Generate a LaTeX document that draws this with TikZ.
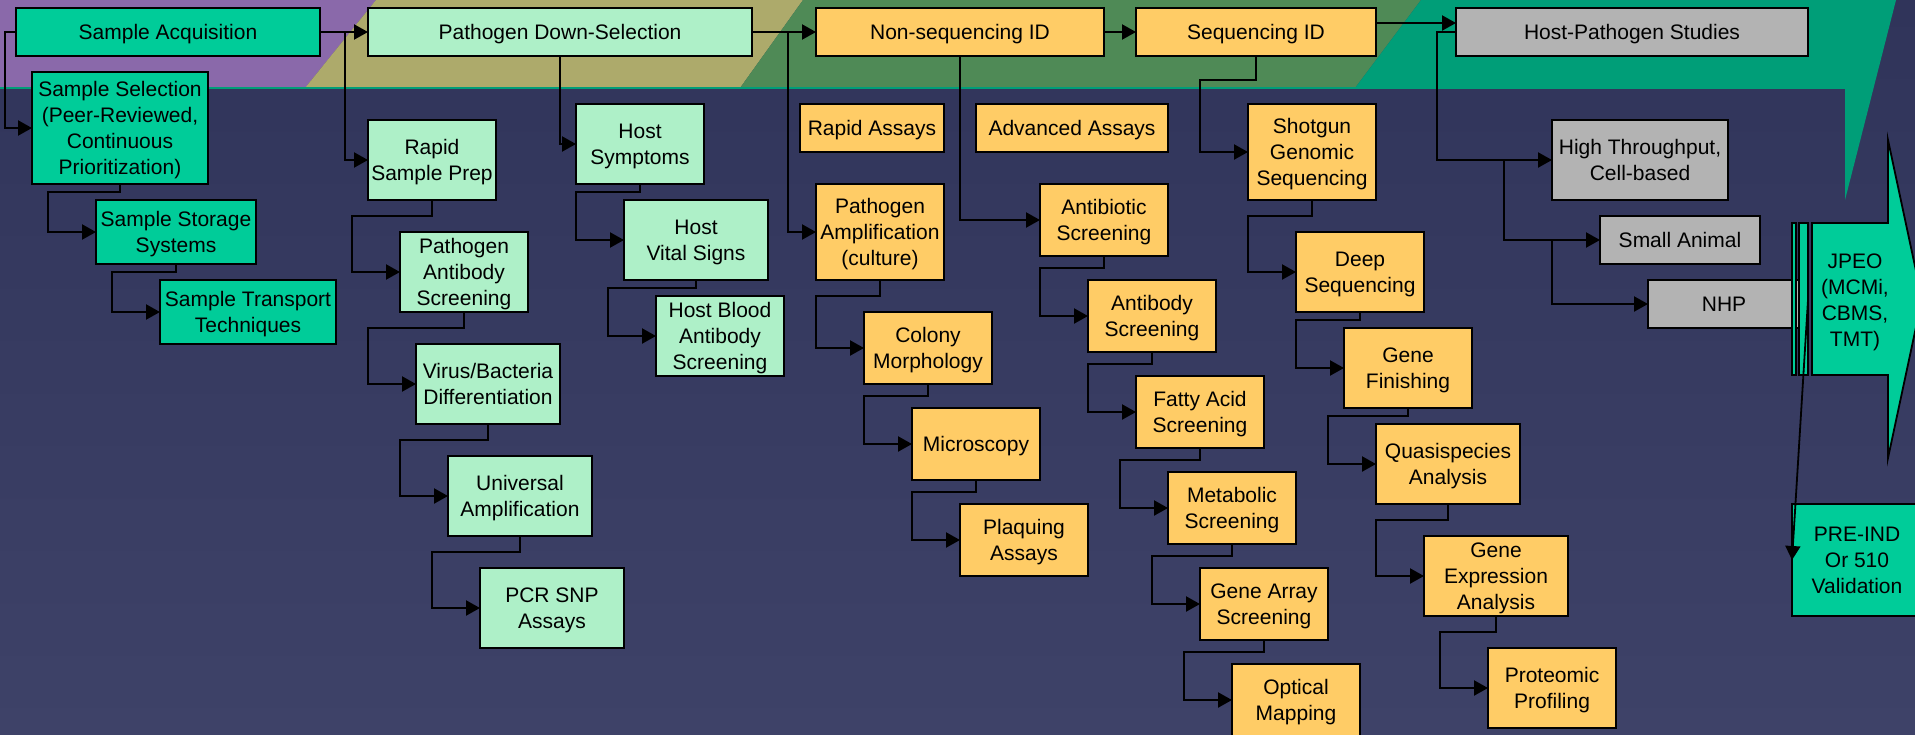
\documentclass[tikz,border=0pt]{standalone}
\usepackage{fontspec}
\setmainfont{Liberation Sans}
\usetikzlibrary{arrows.meta}
\definecolor{navyTop}{HTML}{30345A}
\definecolor{navyBot}{HTML}{3E4268}
\definecolor{bandPurple}{HTML}{8A69AA}
\definecolor{bandKhaki}{HTML}{ADAA6B}
\definecolor{bandGreen}{HTML}{4F8A56}
\definecolor{bandTeal}{HTML}{009E78}
\definecolor{boxTeal}{HTML}{00CC99}
\definecolor{boxMint}{HTML}{AEF0C8}
\definecolor{boxYellow}{HTML}{FFCC66}
\definecolor{boxGray}{HTML}{B3B3B3}
\newcommand{\bx}[7]{\node[#2, minimum width={(#5)-(#3)}, minimum height={(#6)-(#4)}] (#1) at ({((#3)+(#5))/2},{((#4)+(#6))/2}) {#7};}
\begin{document}
\begin{tikzpicture}[x=1pt,y=-1pt,
  box/.style={draw=black, line width=1.8pt, inner sep=0pt, outer sep=0pt, align=center, text=black, text depth=0pt, font=\fontsize{21}{26}\selectfont},
  gd/.style={box, fill=boxTeal},
  gl/.style={box, fill=boxMint},
  yl/.style={box, fill=boxYellow},
  gy/.style={box, fill=boxGray},
  conn/.style={draw=black, line width=2.2pt, -{Triangle[length=14pt,width=15pt]}}]
\useasboundingbox (0,0) rectangle (1915,734);
\begin{scope}
\clip (0,0) rectangle (1915,734);
% background
\shade[top color=navyTop, bottom color=navyBot] (0,0) rectangle (1915,734);
\fill[bandPurple] (0,0) -- (376,0) -- (305,88) -- (0,88) -- cycle;
\fill[bandKhaki] (376,0) -- (803,0) -- (740,88) -- (305,88) -- cycle;
\fill[bandGreen] (803,0) -- (1421,0) -- (1355,88) -- (740,88) -- cycle;
\fill[bandTeal] (1421,0) -- (1896,0) -- (1845,200) -- (1845,88) -- (1355,88) -- cycle;
\draw[bandTeal, line width=2pt] (0,88) -- (1845,88);

% green column
\bx{SA}{gd}{16}{8}{320}{56}{Sample Acquisition}
\bx{SS}{gd}{32}{72}{208}{184}{Sample Selection\\(Peer-Reviewed,\\Continuous\\Prioritization)}
\bx{SST}{gd}{96}{200}{256}{264}{Sample Storage\\Systems}
\bx{STT}{gd}{160}{280}{336}{344}{Sample Transport\\Techniques}

% mint
\bx{PDS}{gl}{368}{8}{752}{56}{Pathogen Down-Selection}
\bx{RSP}{gl}{368}{120}{496}{200}{Rapid\\Sample Prep}
\bx{PAS}{gl}{400}{232}{528}{312}{Pathogen\\Antibody\\Screening}
\bx{VBD}{gl}{416}{344}{560}{424}{Virus/Bacteria\\Differentiation}
\bx{UA}{gl}{448}{456}{592}{536}{Universal\\Amplification}
\bx{PCR}{gl}{480}{568}{624}{648}{PCR SNP\\Assays}
\bx{HS}{gl}{576}{104}{704}{184}{Host\\Symptoms}
\bx{HVS}{gl}{624}{200}{768}{280}{Host\\Vital Signs}
\bx{HBA}{gl}{656}{296}{784}{376}{Host Blood\\Antibody\\Screening}

% yellow
\bx{NSI}{yl}{816}{8}{1104}{56}{Non-sequencing ID}
\bx{SID}{yl}{1136}{8}{1376}{56}{Sequencing ID}
\bx{RA}{yl}{800}{104}{944}{152}{Rapid Assays}
\bx{AA}{yl}{976}{104}{1168}{152}{Advanced Assays}
\bx{PA}{yl}{816}{184}{944}{280}{Pathogen\\Amplification\\(culture)}
\bx{CM}{yl}{864}{312}{992}{384}{Colony\\Morphology}
\bx{MIC}{yl}{912}{408}{1040}{480}{Microscopy}
\bx{PLA}{yl}{960}{504}{1088}{576}{Plaquing\\Assays}
\bx{ABS}{yl}{1040}{184}{1168}{256}{Antibiotic\\Screening}
\bx{ABY}{yl}{1088}{280}{1216}{352}{Antibody\\Screening}
\bx{FAS}{yl}{1136}{376}{1264}{448}{Fatty Acid\\Screening}
\bx{MET}{yl}{1168}{472}{1296}{544}{Metabolic\\Screening}
\bx{GAS}{yl}{1200}{568}{1328}{640}{Gene Array\\Screening}
\bx{OPM}{yl}{1232}{664}{1360}{736}{Optical\\Mapping}
\bx{SGS}{yl}{1248}{104}{1376}{200}{Shotgun\\Genomic\\Sequencing}
\bx{DS}{yl}{1296}{232}{1424}{312}{Deep\\Sequencing}
\bx{GF}{yl}{1344}{328}{1472}{408}{Gene\\Finishing}
\bx{QA}{yl}{1376}{424}{1520}{504}{Quasispecies\\Analysis}
\bx{GEA}{yl}{1424}{536}{1568}{616}{Gene\\Expression\\Analysis}
\bx{PP}{yl}{1488}{648}{1616}{728}{Proteomic\\Profiling}

% gray
\bx{HPS}{gy}{1456}{8}{1808}{56}{Host-Pathogen Studies}
\bx{HTP}{gy}{1552}{120}{1728}{200}{High Throughput,\\Cell-based}
\bx{SAN}{gy}{1600}{216}{1760}{264}{Small Animal}
\bx{NHP}{gy}{1648}{280}{1800}{328}{NHP}

% JPEO arrow
\filldraw[fill=boxTeal, draw=black, line width=1.8pt] (1812,223) -- (1888,223) -- (1888,140) -- (1922,299) -- (1888,458) -- (1888,375) -- (1812,375) -- cycle;
\filldraw[fill=boxTeal, draw=black, line width=1.2pt] (1792,223) rectangle (1796,375);
\filldraw[fill=boxTeal, draw=black, line width=1.2pt] (1799,223) rectangle (1808,375);
\node[align=center, text=black, text depth=0pt, font=\fontsize{21}{26}\selectfont] (jpeo) at (1855,300) {JPEO\\(MCMi,\\CBMS,\\TMT)};
\bx{PRE}{gd}{1792}{504}{1922}{616}{PRE-IND\\Or 510\\Validation}

% connectors
\coordinate (saleft) at (5,32);
\coordinate (bRSP) at (345,32);
\coordinate (bPA) at (788,32);
\coordinate (hpsleft) at (1437,32);
\coordinate (bSAN) at (1504,160);
\coordinate (bNHP) at (1552,240);
\coordinate (jpeoout) at (1808,300);

\draw[conn] (SA.west) -- (saleft) |- (SS.west);
\draw[conn] (SA.east) -- (PDS.west);
\draw[conn] (bRSP) |- (RSP.west);
\draw[conn] (SS.south) |- (48,192) |- (SST.west);
\draw[conn] (SST.south) |- (112,272) |- (STT.west);
\draw[conn] (PDS.south) |- (HS.west);
\draw[conn] (RSP.south) |- (352,216) |- (PAS.west);
\draw[conn] (PAS.south) |- (368,328) |- (VBD.west);
\draw[conn] (VBD.south) |- (400,440) |- (UA.west);
\draw[conn] (UA.south) |- (432,552) |- (PCR.west);
\draw[conn] (HS.south) |- (576,192) |- (HVS.west);
\draw[conn] (HVS.south) |- (608,288) |- (HBA.west);
\draw[conn] (PDS.east) -- (NSI.west);
\draw[conn] (bPA) |- (PA.west);
\draw[conn] (NSI.east) -- (SID.west);
\draw[conn] (NSI.south) |- (ABS.west);
\draw[conn] (PA.south) |- (816,296) |- (CM.west);
\draw[conn] (CM.south) |- (864,396) |- (MIC.west);
\draw[conn] (MIC.south) |- (912,492) |- (PLA.west);
\draw[conn] (ABS.south) |- (1040,268) |- (ABY.west);
\draw[conn] (ABY.south) |- (1088,364) |- (FAS.west);
\draw[conn] (FAS.south) |- (1120,460) |- (MET.west);
\draw[conn] (MET.south) |- (1152,556) |- (GAS.west);
\draw[conn] (GAS.south) |- (1184,652) |- (OPM.west);
\draw[conn] (SID.south) |- (1200,80) |- (SGS.west);
\draw[conn] (SGS.south) |- (1248,216) |- (DS.west);
\draw[conn] (DS.south) |- (1296,320) |- (GF.west);
\draw[conn] (GF.south) |- (1328,416) |- (QA.west);
\draw[conn] (QA.south) |- (1376,520) |- (GEA.west);
\draw[conn] (GEA.south) |- (1440,632) |- (PP.west);
\draw[conn] ([yshift=9pt]SID.east) -- ([yshift=9pt]HPS.west);
\draw[conn] (HPS.west) -- (hpsleft) |- (HTP.west);
\draw[conn] (bSAN) |- (SAN.west);
\draw[conn] (bNHP) |- (NHP.west);
\draw[conn, line width=1.8pt] (jpeoout) -- (PRE.west);
\end{scope}
\end{tikzpicture}
\end{document}
